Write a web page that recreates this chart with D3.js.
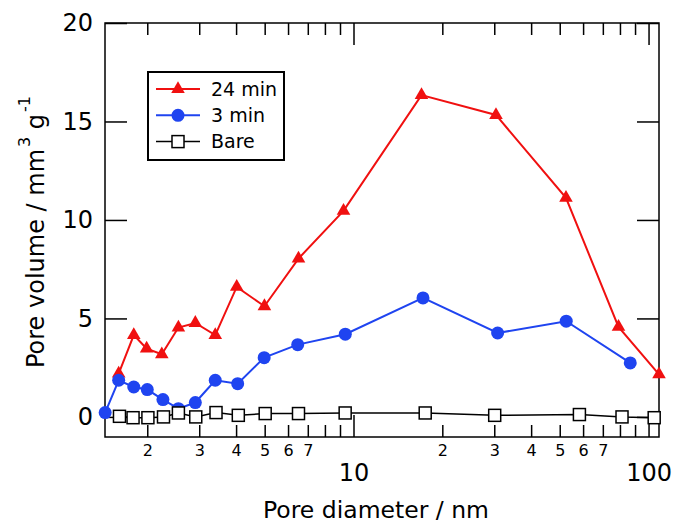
<!DOCTYPE html>
<html lang="en">

<head>
    <meta charset="UTF-8">
    <title>Pore size distribution</title>
    <script src="https://cdn.jsdelivr.net/npm/d3@7"></script>
    <style>
        body { margin: 0; background: #fff; }
        text { font-family: "DejaVu Sans", sans-serif; fill: #000; }
    </style>
</head>

<body>

<script>
    // pore diameter (nm) and pore volume (mm3/g) for each sample
    const diam24 = [1.60, 1.80, 1.99, 2.24, 2.55, 2.91, 3.40, 4.02, 4.99, 6.51, 9.25, 17.0, 30.4, 52.5, 79.1, 108.5];
    const vol24 = [2.2, 4.15, 3.47, 3.18, 4.54, 4.77, 4.15, 6.6, 5.62, 8.04, 10.46, 16.34, 15.33, 11.12, 4.57, 2.16];

    const diam3 = [1.44, 1.60, 1.80, 2.00, 2.26, 2.55, 2.91, 3.40, 4.05, 4.98, 6.47, 9.38, 17.2, 30.8, 52.6, 86.7];
    const vol3 = [0.22, 1.86, 1.52, 1.39, 0.88, 0.42, 0.73, 1.86, 1.69, 3.01, 3.67, 4.20, 6.04, 4.26, 4.86, 2.74];

    const diamBare = [1.61, 1.79, 2.01, 2.27, 2.55, 2.92, 3.42, 4.07, 5.02, 6.51, 9.37, 17.5, 30.1, 58.3, 81.3, 104.5];
    const volBare = [0.03, -0.04, -0.04, 0, 0.2, 0, 0.22, 0.08, 0.17, 0.17, 0.2, 0.2, 0.08, 0.12, 0, -0.04];

    const seriesNames = ["24 min", "3 min", "Bare"];

    // axis ticks
    const xMinorTicks = [2, 3, 4, 5, 6, 7, 8, 9, 20, 30, 40, 50, 60, 70, 80, 90];
    const xMinorLabels = [2, 3, 4, 5, 6, 7, 20, 30, 40, 50, 60, 70];
    const xMajorTicks = [10, 100];
    const yTicks = [0, 5, 10, 15, 20];

    const width = 675;
    const height = 523;
    const margin = { top: 23, right: 16, bottom: 86, left: 105 };

    const svg = d3.select("body").append("svg")
        .attr("width", width)
        .attr("height", height);

    const x = d3.scaleLog()
        .domain([1.438, 108.5])
        .range([margin.left, width - margin.right]);

    const y = d3.scaleLinear()
        .domain([-1.02, 20])
        .range([height - margin.bottom, margin.top]);

    const x0 = margin.left, x1 = width - margin.right;
    const y0 = height - margin.bottom, y1 = margin.top;

    // frame
    svg.append("rect")
        .attr("x", x0).attr("y", y1)
        .attr("width", x1 - x0).attr("height", y0 - y1)
        .attr("fill", "none")
        .attr("stroke", "#000")
        .attr("stroke-width", 1.5);

    function styleAxis(g) {
        g.select(".domain").remove();
        g.selectAll(".tick line").attr("stroke", "#000").attr("stroke-width", 1.5);
    }

    // bottom axis: minor ticks with small labels
    svg.append("g")
        .attr("transform", `translate(0,${y0})`)
        .call(d3.axisBottom(x).tickValues(xMinorTicks).tickSize(-12).tickPadding(8)
            .tickFormat(d => xMinorLabels.includes(d) ? (d < 10 ? d : d / 10) : ""))
        .call(styleAxis)
        .selectAll("text").attr("font-size", 16).style("font-family", "DejaVu Sans");

    // bottom axis: decades
    svg.append("g")
        .attr("transform", `translate(0,${y0})`)
        .call(d3.axisBottom(x).tickValues(xMajorTicks).tickSize(-22).tickPadding(27)
            .tickFormat(d3.format("d")))
        .call(styleAxis)
        .selectAll("text").attr("font-size", 24).style("font-family", "DejaVu Sans");

    // top axis mirror
    svg.append("g")
        .attr("transform", `translate(0,${y1})`)
        .call(d3.axisTop(x).tickValues(xMinorTicks).tickSize(-12).tickFormat(""))
        .call(styleAxis);
    svg.append("g")
        .attr("transform", `translate(0,${y1})`)
        .call(d3.axisTop(x).tickValues(xMajorTicks).tickSize(-22).tickFormat(""))
        .call(styleAxis);

    // left and right axes
    svg.append("g")
        .attr("transform", `translate(${x0},0)`)
        .call(d3.axisLeft(y).tickValues(yTicks).tickSize(-22).tickPadding(12))
        .call(styleAxis)
        .selectAll("text").attr("font-size", 24).style("font-family", "DejaVu Sans");
    svg.append("g")
        .attr("transform", `translate(${x1},0)`)
        .call(d3.axisRight(y).tickValues(yTicks).tickSize(-22).tickFormat(""))
        .call(styleAxis);

    // axis titles
    svg.append("text")
        .attr("x", 376)
        .attr("y", 518)
        .attr("text-anchor", "middle")
        .attr("font-size", 23.5)
        .text("Pore diameter / nm");

    const yTitle = svg.append("text")
        .attr("transform", `translate(44,${(y0 + y1) / 2 + 2}) rotate(-90)`)
        .attr("text-anchor", "middle")
        .attr("font-size", 24);
    yTitle.append("tspan").text("Pore volume / mm");
    yTitle.append("tspan").attr("font-size", 16).attr("dx", 2).attr("dy", -14).text("3");
    yTitle.append("tspan").attr("dy", 14).text(" g");
    yTitle.append("tspan").attr("font-size", 16).attr("dx", 2).attr("dy", -14).text("-1");

    const series = [
        { name: seriesNames[0], xs: diam24, ys: vol24, color: "#f01010", lw: 2, marker: "triangle" },
        { name: seriesNames[1], xs: diam3, ys: vol3, color: "#1f44f0", lw: 2, marker: "circle" },
        { name: seriesNames[2], xs: diamBare, ys: volBare, color: "#000", lw: 1.5, marker: "square" }
    ];

    function drawMarker(g, s) {
        if (s.marker === "triangle") {
            g.append("path")
                .attr("d", d3.symbol(d3.symbolTriangle, 80)())
                .attr("fill", s.color);
        } else if (s.marker === "circle") {
            g.append("circle").attr("r", 6.5).attr("fill", s.color);
        } else {
            g.append("rect")
                .attr("x", -6).attr("y", -6).attr("width", 12).attr("height", 12)
                .attr("fill", "#fff").attr("stroke", "#000").attr("stroke-width", 1.5);
        }
    }

    const line = d3.line().x(d => x(d[0])).y(d => y(d[1]));

    series.forEach(s => {
        const pts = s.xs.map((d, i) => [d, s.ys[i]]);
        svg.append("path")
            .datum(pts)
            .attr("d", line)
            .attr("fill", "none")
            .attr("stroke", s.color)
            .attr("stroke-width", s.lw);
        pts.forEach(p => {
            const g = svg.append("g").attr("transform", `translate(${x(p[0])},${y(p[1])})`);
            drawMarker(g, s);
        });
    });

    // legend
    const legend = svg.append("g");
    legend.append("rect")
        .attr("x", 148).attr("y", 72)
        .attr("width", 136).attr("height", 88)
        .attr("fill", "#fff")
        .attr("stroke", "#000")
        .attr("stroke-width", 2);

    series.forEach((s, i) => {
        const ly = 89 + i * 26.3;
        legend.append("line")
            .attr("x1", 156).attr("x2", 200)
            .attr("y1", ly).attr("y2", ly)
            .attr("stroke", s.color)
            .attr("stroke-width", s.lw);
        drawMarker(legend.append("g").attr("transform", `translate(178,${ly})`), s);
        legend.append("text")
            .attr("x", 211)
            .attr("y", ly)
            .attr("dy", "0.35em")
            .attr("font-size", 19)
            .text(s.name);
    });
</script>

</body>

</html>
